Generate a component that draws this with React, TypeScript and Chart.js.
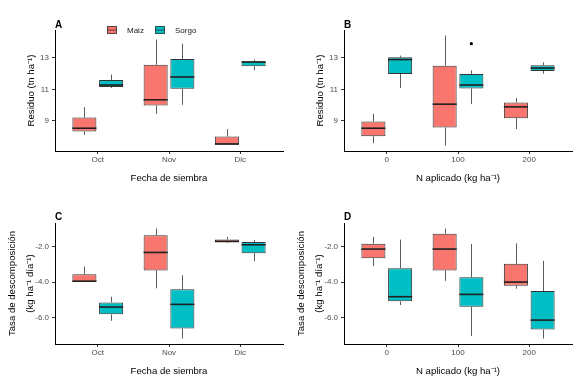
import React, { useEffect, useRef } from 'react';
import { Chart, registerables } from 'chart.js';

Chart.register(...registerables);

// ---------------- data ----------------
const fechaLabels = ['Oct', 'Nov', 'Dic'];
const nLabels = ['0', '100', '200'];
const seriesNames = ['Maiz', 'Sorgo'];
const seriesColors = ['#F8766D', '#00BFC4'];

// each entry: [min, q1, median, q3, max]
const residuoFechaMaiz = [
  [8.11, 8.32, 8.53, 9.21, 9.87],
  [9.45, 9.98, 10.34, 12.57, 14.17],
  [7.47, 7.47, 7.53, 8.0, 8.47],
];
const residuoFechaSorgo = [
  [11.09, 11.15, 11.28, 11.6, 11.94],
  [10.02, 11.04, 11.79, 12.94, 13.91],
  [12.21, 12.47, 12.74, 12.79, 12.9],
];
const residuoNMaiz = [
  [7.57, 8.02, 8.53, 8.96, 9.45],
  [7.43, 8.57, 10.06, 12.51, 14.43],
  [8.47, 9.17, 9.89, 10.17, 10.45],
];
const residuoNSorgo = [
  [11.09, 11.98, 12.9, 13.04, 13.15],
  [10.06, 11.06, 11.28, 11.98, 12.21],
  [12.0, 12.17, 12.36, 12.53, 12.72],
];
const residuoNSorgoOutliers = [[], [13.91], []];

const tasaFechaMaiz = [
  [-3.99, -3.99, -3.95, -3.56, -3.13],
  [-4.35, -3.35, -2.34, -1.38, -1.0],
  [-1.81, -1.77, -1.72, -1.62, -1.47],
];
const tasaFechaSorgo = [
  [-6.17, -5.81, -5.4, -5.14, -4.82],
  [-7.16, -6.6, -5.25, -4.4, -3.62],
  [-2.83, -2.38, -1.91, -1.76, -1.64],
];
const tasaNMaiz = [
  [-3.11, -2.66, -2.15, -1.85, -1.47],
  [-3.93, -3.35, -2.15, -1.29, -1.0],
  [-4.37, -4.2, -4.0, -2.98, -1.83],
];
const tasaNSorgo = [
  [-5.29, -5.08, -4.82, -3.22, -1.62],
  [-7.03, -5.38, -4.69, -3.73, -1.87],
  [-7.16, -6.66, -6.13, -4.5, -2.81],
];

const residuoTicks = [9, 11, 13];
const tasaTicks = [-6, -4, -2];
const emptyOutliers: number[][] = [[], [], []];

// ---------------- styling ----------------
const FONT = '"Liberation Sans", Arial, Helvetica, sans-serif';
const TICK_COLOR = '#4D4D4D';
const DODGE = 0.1875;

interface PanelSpec {
  letter: string;
  xLabels: string[];
  xTitle: string;
  yTitle: string | string[];
  yTitleLH: number | string;
  yTitlePad: number;
  yMin: number;
  yMax: number;
  yTicks: number[];
  decimals: number;
  maiz: number[][];
  sorgo: number[][];
  outMaiz: number[][];
  outSorgo: number[][];
  legend: boolean;
  left: number;
  top: number;
  width: number;
  height: number;
  padRight: number;
  padTop: number;
}

const boxPlugin = {
  id: 'boxWhiskers',
  beforeDatasetsDraw(chart: any) {
    const { ctx } = chart;
    const ys = chart.scales.y;
    chart.data.datasets.forEach((ds: any, di: number) => {
      if (!ds.stats) return;
      const meta = chart.getDatasetMeta(di);
      ds.stats.forEach((s: number[], i: number) => {
        const el = meta.data[i];
        if (!el) return;
        const x = Math.round(el.x) + 0.5;
        ctx.save();
        ctx.strokeStyle = '#5c5c5c';
        ctx.lineWidth = 1;
        ctx.beginPath();
        ctx.moveTo(x, ys.getPixelForValue(s[0]));
        ctx.lineTo(x, ys.getPixelForValue(s[1]));
        ctx.moveTo(x, ys.getPixelForValue(s[3]));
        ctx.lineTo(x, ys.getPixelForValue(s[4]));
        ctx.stroke();
        ctx.restore();
      });
    });
  },
  afterDatasetsDraw(chart: any) {
    const { ctx } = chart;
    const ys = chart.scales.y;
    chart.data.datasets.forEach((ds: any, di: number) => {
      if (!ds.stats) return;
      const meta = chart.getDatasetMeta(di);
      ds.stats.forEach((s: number[], i: number) => {
        const el = meta.data[i];
        if (!el) return;
        const y = ys.getPixelForValue(s[2]);
        ctx.save();
        ctx.strokeStyle = '#1f1f1f';
        ctx.lineWidth = 1.6;
        ctx.beginPath();
        ctx.moveTo(el.x - el.width / 2, y);
        ctx.lineTo(el.x + el.width / 2, y);
        ctx.stroke();
        ctx.restore();
      });
    });
  },
  afterDraw(chart: any) {
    const { ctx } = chart;
    const o = chart.options.plugins.boxWhiskers || {};
    ctx.save();
    ctx.fillStyle = '#000';
    ctx.font = `bold 10px ${FONT}`;
    ctx.textBaseline = 'middle';
    ctx.textAlign = 'left';
    ctx.fillText(o.letter || '', 55, 25);
    if (o.legend) {
      const keys = [
        { kx: 107, tx: 127 },
        { kx: 155, tx: 175 },
      ];
      keys.forEach((k, i) => {
        ctx.fillStyle = seriesColors[i];
        ctx.fillRect(k.kx, 26, 10, 8);
        ctx.strokeStyle = '#333333';
        ctx.lineWidth = 0.8;
        ctx.strokeRect(k.kx + 0.5, 26.5, 9, 7);
        ctx.beginPath();
        ctx.moveTo(k.kx, 30);
        ctx.lineTo(k.kx + 10, 30);
        ctx.stroke();
        ctx.fillStyle = '#1a1a1a';
        ctx.font = `8px ${FONT}`;
        ctx.fillText(seriesNames[i], k.tx, 30.5);
      });
    }
    ctx.restore();
  },
};

function BoxPanel({ spec }: { spec: PanelSpec }) {
  const ref = useRef<HTMLCanvasElement>(null);
  useEffect(() => {
    const canvas = ref.current;
    if (!canvas) return;
    const mkBox = (stats: number[][], off: number, idx: number) => ({
      type: 'bar',
      label: seriesNames[idx],
      data: stats.map((s, i) => ({ x: i + 1 + off, y: [s[1], s[3]] })),
      stats,
      backgroundColor: seriesColors[idx],
      borderColor: '#333333',
      borderWidth: 1,
      borderSkipped: false,
      grouped: false,
      categoryPercentage: 1,
      barPercentage: 0.9,
      order: 2,
    });
    const mkOut = (outs: number[][], off: number) => ({
      type: 'scatter',
      label: 'outliers',
      data: outs.flatMap((arr, i) => arr.map((v) => ({ x: i + 1 + off, y: v }))),
      pointRadius: 1.6,
      pointBackgroundColor: '#000',
      pointBorderWidth: 0,
      showLine: false,
      order: 1,
    });
    const labels = spec.xLabels;
    const chart = new Chart(canvas, {
      type: 'bar',
      data: {
        datasets: [
          mkBox(spec.maiz, -DODGE, 0),
          mkBox(spec.sorgo, DODGE, 1),
          mkOut(spec.outMaiz, -DODGE),
          mkOut(spec.outSorgo, DODGE),
        ] as any,
      },
      options: {
        animation: false,
        responsive: false,
        maintainAspectRatio: false,
        devicePixelRatio: 1,
        layout: { padding: { left: 0, right: spec.padRight, top: spec.padTop, bottom: 0 } },
        plugins: {
          legend: { display: false },
          tooltip: { enabled: false },
          boxWhiskers: { letter: spec.letter, legend: spec.legend },
        } as any,
        scales: {
          x: {
            type: 'linear',
            offset: false,
            min: 0.4,
            max: 3.6,
            afterBuildTicks: (s: any) => {
              s.ticks = [1, 2, 3].map((v) => ({ value: v }));
            },
            afterFit: (s: any) => {
              s.height = 41;
            },
            ticks: {
              callback: (v: any) => labels[Math.round(Number(v)) - 1] ?? '',
              font: { family: FONT, size: 8 },
              color: TICK_COLOR,
              padding: 1,
              autoSkip: false,
              maxRotation: 0,
            },
            grid: { display: true, offset: false, drawOnChartArea: false, drawTicks: true, tickLength: 3, color: '#333333' },
            border: { display: true, color: '#000000', width: 1 },
            title: {
              display: true,
              text: spec.xTitle,
              font: { family: FONT, size: 9.6 },
              color: '#000',
              padding: { top: 0, bottom: 8.2 },
            },
          },
          y: {
            type: 'linear',
            min: spec.yMin,
            max: spec.yMax,
            afterBuildTicks: (s: any) => {
              s.ticks = spec.yTicks.map((v) => ({ value: v }));
            },
            afterFit: (s: any) => {
              s.width = 55;
            },
            ticks: {
              callback: (v: any) => Number(v).toFixed(spec.decimals),
              font: { family: FONT, size: 8 },
              color: TICK_COLOR,
              padding: 3,
            },
            grid: { display: true, drawOnChartArea: false, drawTicks: true, tickLength: 3, color: '#333333' },
            border: { display: true, color: '#000000', width: 1 },
            title: {
              display: true,
              text: spec.yTitle,
              font: { family: FONT, size: 9.6, lineHeight: spec.yTitleLH as any },
              color: '#000',
              padding: { top: spec.yTitlePad, bottom: 0 },
            },
          },
        },
      } as any,
      plugins: [boxPlugin as any],
    });
    return () => chart.destroy();
  }, [spec]);
  return (
    <div style={{ position: 'absolute', left: spec.left, top: spec.top, width: spec.width, height: spec.height }}>
      <canvas ref={ref} width={spec.width} height={spec.height} style={{ display: 'block' }} />
    </div>
  );
}

const residuoTitle = 'Residuo (tn ha\u207B\u00B9)';
const tasaTitle = ['Tasa de descomposición', '(kg ha\u207B\u00B9 día\u207B\u00B9)'];
const fechaTitle = 'Fecha de siembra';
const nTitle = 'N aplicado (kg ha\u207B\u00B9)';

const panels: PanelSpec[] = [
  {
    letter: 'A', xLabels: fechaLabels, xTitle: fechaTitle, yTitle: residuoTitle, yTitleLH: 1.2, yTitlePad: 25.7,
    yMin: 7.08, yMax: 14.78, yTicks: residuoTicks, decimals: 0,
    maiz: residuoFechaMaiz, sorgo: residuoFechaSorgo, outMaiz: emptyOutliers, outSorgo: emptyOutliers,
    legend: true, left: 0, top: 0, width: 289, height: 192, padRight: 6, padTop: 30,
  },
  {
    letter: 'B', xLabels: nLabels, xTitle: nTitle, yTitle: residuoTitle, yTitleLH: 1.2, yTitlePad: 25.7,
    yMin: 7.08, yMax: 14.78, yTicks: residuoTicks, decimals: 0,
    maiz: residuoNMaiz, sorgo: residuoNSorgo, outMaiz: emptyOutliers, outSorgo: residuoNSorgoOutliers,
    legend: false, left: 289, top: 0, width: 290, height: 192, padRight: 7, padTop: 30,
  },
  {
    letter: 'C', xLabels: fechaLabels, xTitle: fechaTitle, yTitle: tasaTitle, yTitleLH: '18px', yTitlePad: 3,
    yMin: -7.47, yMax: -0.69, yTicks: tasaTicks, decimals: 1,
    maiz: tasaFechaMaiz, sorgo: tasaFechaSorgo, outMaiz: emptyOutliers, outSorgo: emptyOutliers,
    legend: false, left: 0, top: 192, width: 289, height: 193, padRight: 6, padTop: 31,
  },
  {
    letter: 'D', xLabels: nLabels, xTitle: nTitle, yTitle: tasaTitle, yTitleLH: '18px', yTitlePad: 3,
    yMin: -7.47, yMax: -0.69, yTicks: tasaTicks, decimals: 1,
    maiz: tasaNMaiz, sorgo: tasaNSorgo, outMaiz: emptyOutliers, outSorgo: emptyOutliers,
    legend: false, left: 289, top: 192, width: 290, height: 193, padRight: 7, padTop: 31,
  },
];

export default function App() {
  return (
    <div style={{ position: 'absolute', left: 0, top: 0, width: 579, height: 385, background: '#ffffff', overflow: 'hidden' }}>
      {panels.map((p) => (
        <BoxPanel key={p.letter} spec={p} />
      ))}
    </div>
  );
}
